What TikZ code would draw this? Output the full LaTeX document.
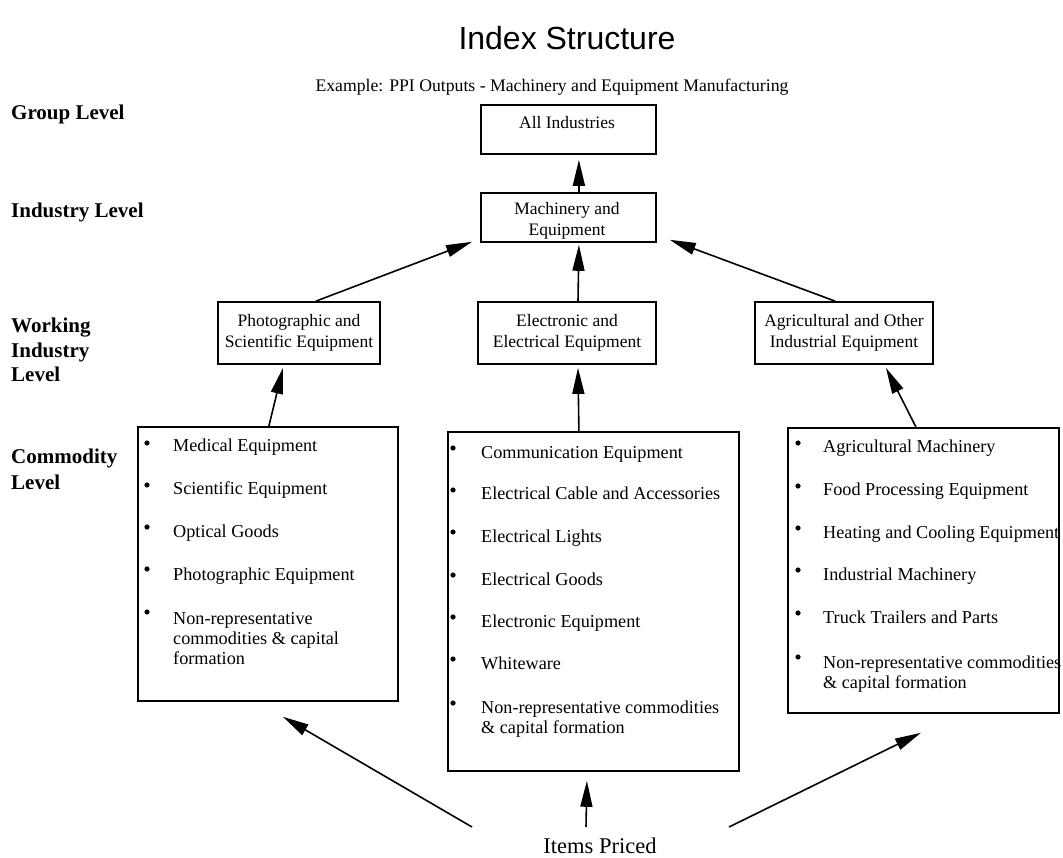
\documentclass[tikz,border=0pt]{standalone}
\usepackage{fontspec}
\setmainfont{Liberation Serif}
\newfontfamily\titlefont{Liberation Sans}
\usetikzlibrary{arrows.meta}
\begin{document}
\begin{tikzpicture}[x=1pt,y=-1pt,
  box/.style={draw, line width=1.8pt, rectangle, inner sep=0pt},
  arr/.style={line width=1.6pt, -{Triangle[length=26pt,width=12pt]}},
  lvl/.style={anchor=base west, inner sep=0pt, font=\fontsize{21}{24}\selectfont\bfseries},
  txt/.style={font=\fontsize{17.5}{20.5}\selectfont, align=center},
  item/.style={anchor=base west, inner sep=0pt, font=\fontsize{18.2}{20}\selectfont, align=left},
  bul/.style={circle, fill, inner sep=0pt, minimum size=5.2pt}]
\useasboundingbox (0,0) rectangle (1063,858);

% title and subtitle
\node[anchor=base, inner sep=0pt, font=\titlefont\fontsize{32}{36}\selectfont] (title) at (567,50) {Index Structure};
\node[anchor=base, inner sep=0pt, font=\fontsize{17.7}{20}\selectfont] (ex) at (552,92) {Example: PPI Outputs - Machinery and Equipment Manufacturing};

% level labels
\node[lvl] (l1) at (11,120) {Group Level};
\node[lvl] (l2) at (11,218) {Industry Level};
\node[lvl] (l3a) at (11,333) {Working};
\node[lvl] (l3b) at (11,358) {Industry};
\node[lvl] (l3c) at (11,382) {Level};
\node[lvl] (l4a) at (11,464) {Commodity};
\node[lvl] (l4b) at (11,489) {Level};

% group / industry boxes
\node[box, minimum width=175pt, minimum height=49pt, anchor=north west] (all) at (480,104) {};
\node[txt] (allt) at (567,123) {All Industries};
\node[box, minimum width=175pt, minimum height=49pt, anchor=north west] (mach) at (480,192) {};
\node[txt] (macht) at (567,221) {Machinery and\\Equipment};

% working industry boxes
\node[box, txt, minimum width=162pt, minimum height=62pt] (photo) at (299,333) {Photographic and\\Scientific Equipment};
\node[box, txt, minimum width=178pt, minimum height=62pt] (elec) at (567,333) {Electronic and\\Electrical Equipment};
\node[box, txt, minimum width=178pt, minimum height=62pt] (agri) at (844,333) {Agricultural and Other\\Industrial Equipment};

% commodity boxes
\node[box, minimum width=260pt, minimum height=274pt, anchor=north west] (cl) at (137,426) {};
\node[box, minimum width=291pt, minimum height=339pt, anchor=north west] (cc) at (447,431) {};
\node[box, minimum width=271pt, minimum height=285pt, anchor=north west] (cr) at (787,427) {};

% left list
\node[bul] (bl1) at (147,443) {};
\node[item] (tl1) at (173,451) {Medical Equipment};
\node[bul] (bl2) at (147,485) {};
\node[item] (tl2) at (173,494) {Scientific Equipment};
\node[bul] (bl3) at (147,527) {};
\node[item] (tl3) at (173,537) {Optical Goods};
\node[bul] (bl4) at (147,569) {};
\node[item] (tl4) at (173,580) {Photographic Equipment};
\node[bul] (bl5) at (147,612) {};
\node[item] (tl5) at (173,624) {Non-representative};
\node[item] (tl6) at (173,644) {commodities \& capital};
\node[item] (tl7) at (173,664) {formation};

% centre list
\node[bul] (bc1) at (453,448) {};
\node[item] (tc1) at (481,458) {Communication Equipment};
\node[bul] (bc2) at (453,490) {};
\node[item] (tc2) at (481,499) {Electrical Cable and Accessories};
\node[bul] (bc3) at (453,532) {};
\node[item] (tc3) at (481,542) {Electrical Lights};
\node[bul] (bc4) at (453,575) {};
\node[item] (tc4) at (481,585) {Electrical Goods};
\node[bul] (bc5) at (453,617) {};
\node[item] (tc5) at (481,627) {Electronic Equipment};
\node[bul] (bc6) at (453,659) {};
\node[item] (tc6) at (481,669) {Whiteware};
\node[bul] (bc7) at (453,703) {};
\node[item] (tc7) at (481,713) {Non-representative commodities};
\node[item] (tc8) at (481,733) {\& capital formation};

% right list
\node[bul] (br1) at (798,443) {};
\node[item] (tr1) at (823,453) {Agricultural Machinery};
\node[bul] (br2) at (798,486) {};
\node[item] (tr2) at (823,495) {Food Processing Equipment};
\node[bul] (br3) at (798,528) {};
\node[item] (tr3) at (823,538) {Heating and Cooling Equipment};
\node[bul] (br4) at (798,570) {};
\node[item] (tr4) at (823,580) {Industrial Machinery};
\node[bul] (br5) at (798,613) {};
\node[item] (tr5) at (823,623) {Truck Trailers and Parts};
\node[bul] (br6) at (798,657) {};
\node[item] (tr6) at (823,668) {Non-representative commodities};
\node[item] (tr7) at (823,688) {\& capital formation};

% items priced
\node[anchor=base, inner sep=0pt, font=\fontsize{22.5}{26}\selectfont] (items) at (600,853) {Items Priced};
\coordinate (pl) at (472,827);
\coordinate (pc) at (586,827);
\coordinate (pr) at (729,827);

% connectors
\draw[arr] ([xshift=10.5pt]mach.north) -- ([xshift=10.5pt,yshift=-5pt]all.south);
\draw[arr] ([xshift=17pt]photo.north) -- ([xshift=-8pt,yshift=1pt]mach.south west);
\draw[arr] ([xshift=11pt]elec.north) -- ([xshift=10.5pt,yshift=-2pt]mach.south);
\draw[arr] ([xshift=-9pt]agri.north) -- ([xshift=13pt,yshift=3pt]mach.south east);
\draw[arr] ([xshift=1pt]cl.north) -- ([xshift=-16pt,yshift=-3pt]photo.south);
\draw[arr] ([xshift=-14.5pt]cc.north) -- ([xshift=11pt,yshift=-3pt]elec.south);
\draw[arr] ([xshift=-7.5pt]cr.north) -- ([xshift=42pt,yshift=-3pt]agri.south);
\draw[arr] (pl) -- ([xshift=15pt,yshift=-15pt]cl.south);
\draw[arr] (pc) -- ([xshift=-6.5pt,yshift=-9pt]cc.south);
\draw[arr] (pr) -- ([xshift=-2.5pt,yshift=-19pt]cr.south);
\end{tikzpicture}
\end{document}
